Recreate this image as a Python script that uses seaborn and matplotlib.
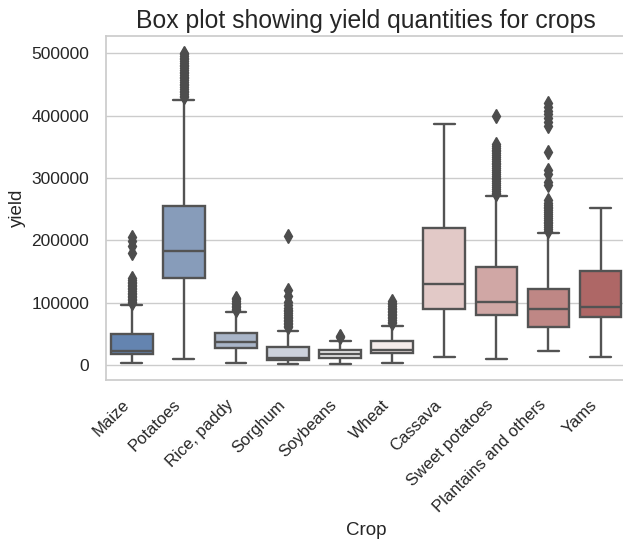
import numpy as np
import pandas as pd
import matplotlib
matplotlib.use("Agg")
import matplotlib.pyplot as plt
import seaborn as sns

crops = ["Maize", "Potatoes", "Rice, paddy", "Sorghum", "Soybeans", "Wheat",
         "Cassava", "Sweet potatoes", "Plantains and others", "Yams"]

# five-number summaries
whisker_low = [2700, 9600, 2700, 1100, 1100, 2700, 13300, 9100, 21900, 13300]
q1 = [17600, 139800, 26700, 8000, 10700, 19700, 89700, 80600, 61400, 77300]
median = [22900, 183000, 36300, 11000, 17600, 24500, 129200, 100300, 90200, 93300]
q3 = [49600, 255000, 50700, 28500, 24000, 38400, 218800, 157400, 122200, 151000]
whisker_high = [95600, 425400, 84400, 54400, 38000, 62900, 386900, 270600, 212000, 250900]

# outliers
out_maize = [98500, 101000, 103500, 106000, 108500, 111000, 113500, 116000, 118500,
             121000, 123500, 126000, 128500, 131000, 133500, 136000, 139000,
             180000, 190000, 198000, 205000]
out_potatoes = [429000, 432000, 435000, 437500, 440000, 443000, 446000, 448500, 451000,
                454000, 457000, 459500, 462000, 465000, 468000, 470500, 473000, 476000,
                479000, 481500, 484000, 487000, 490000, 492500, 495000, 498000, 501000]
out_rice = [87500, 90000, 92500, 95000, 97500, 100000, 102500, 105000, 107000]
out_sorghum = [60000, 62500, 65000, 67500, 70000, 72500, 75000, 77500, 80000, 83000,
               86000, 88500, 91000, 96000, 101000, 110000, 120000, 207000]
out_soybeans = [44500, 46000]
out_wheat = [67000, 69500, 72000, 74500, 77000, 79500, 82000, 84500, 87000, 89500,
             92000, 94500, 97000, 99500, 102000]
out_cassava = []
out_sweet = [273500, 276500, 279500, 282500, 285500, 288500, 291500, 294500, 297500,
             300500, 303500, 306500, 309500, 312500, 315500, 318500, 321500, 324500,
             327500, 330500, 333500, 336500, 339500, 342500, 345500, 348500, 351500,
             354000, 400000]
out_plantains = [215000, 218000, 221000, 224000, 227000, 230000, 233000, 236000, 239000,
                 242000, 245000, 248000, 251000, 254000, 257000, 260000, 264000,
                 288000, 294000, 306000, 313000, 342000,
                 384000, 390000, 396000, 402000, 408000, 414000, 420000]
out_yams = []

outliers = [out_maize, out_potatoes, out_rice, out_sorghum, out_soybeans, out_wheat,
            out_cassava, out_sweet, out_plantains, out_yams]

# build observations whose box statistics equal the summaries above
reps = 150
rows = []
for i, crop in enumerate(crops):
    core = [whisker_low[i], q1[i], median[i], q3[i], whisker_high[i]] * reps
    for v in core + outliers[i]:
        rows.append((crop, v))
df = pd.DataFrame(rows, columns=["Crop", "yield"])

sns.set_theme(style="whitegrid")
plt.rcParams["font.family"] = ["Liberation Sans", "DejaVu Sans"]

fig = plt.figure(figsize=(6.23, 5.41), dpi=100)
ax = fig.add_axes([0.1697, 0.2967, 0.836, 0.6368])

sns.boxplot(data=df, x="Crop", y="yield", hue="Crop", palette="vlag", legend=False,
            order=crops, hue_order=crops, ax=ax, linewidth=1.7,
            flierprops=dict(marker="d", markersize=6.8, markerfacecolor="#4d4d4d",
                            markeredgecolor="#4d4d4d"))

ax.set_title("Box plot showing yield quantities for crops", fontsize=17.8)
ax.set_xlabel("Crop", fontsize=13.5, labelpad=5)
ax.set_ylabel("yield", fontsize=13.5)
ax.tick_params(axis="y", labelsize=12.5, pad=6)
ax.tick_params(axis="x", labelsize=12, pad=6)
plt.setp(ax.get_xticklabels(), rotation=45, ha="right")
ax.set_ylim(-25100, 527700)

fig.savefig("out.png", dpi=100)
